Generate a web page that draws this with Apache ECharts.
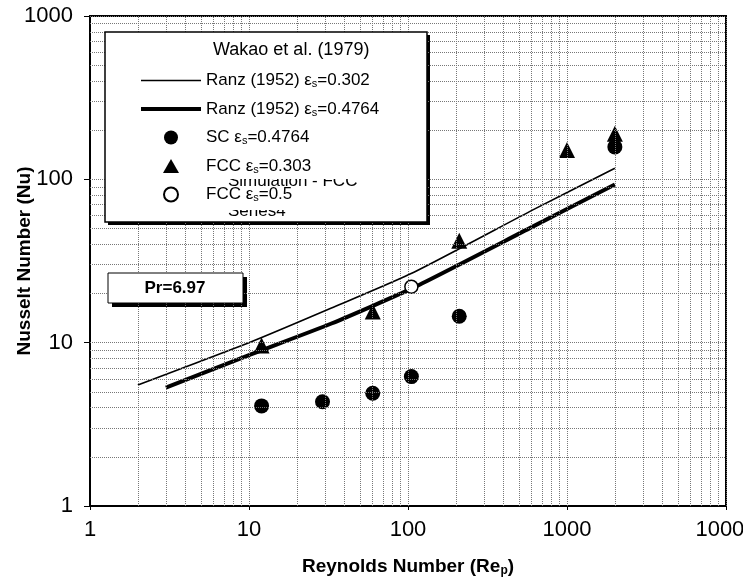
<!DOCTYPE html>
<html>
<head>
<meta charset="utf-8">
<script src="https://cdn.jsdelivr.net/npm/echarts@6/dist/echarts.min.js"></script>
<style>
html,body{margin:0;padding:0;background:#fff;}
#chart{width:743px;height:582px;}
</style>
</head>
<body>
<div id="chart"></div>
<script>
// ---- data ----
const xTickLabels = ['1', '10', '100', '1000', '10000'];
const yTickLabels = ['1', '10', '100', '1000'];

const ranz302Re = [2, 10, 33, 109, 610, 2000];
const ranz302Nu = [5.5, 10, 16.3, 27, 65, 117];

const ranz4764Re = [3, 10, 33, 109, 600, 2000];
const ranz4764Nu = [5.3, 8.4, 13.1, 21.8, 51, 93];

const scRe = [12, 29, 60, 105, 210, 2000];
const scNu = [4.1, 4.35, 4.9, 6.2, 14.5, 158];

const fcc303Re = [12, 60, 210, 1000, 2000];
const fcc303Nu = [9.6, 15.5, 42, 151, 190];

const fcc05Re = [105];
const fcc05Nu = [22];

const seriesNames = [
  'Ranz (1952) εs=0.302',
  'Ranz (1952) εs=0.4764',
  'SC εs=0.4764',
  'FCC εs=0.303',
  'FCC εs=0.5'
];

// grid line positions (decade multiples)
const xGrid = [];
[1, 10, 100, 1000].forEach(d => { for (let m = 2; m <= 10; m++) xGrid.push(d * m); });
const yGrid = [];
[1, 10, 100].forEach(d => { for (let m = 2; m <= 10; m++) yGrid.push(d * m); });

const pairs = (xs, ys) => xs.map((x, i) => [x, ys[i]]);

const chart = echarts.init(document.getElementById('chart'));
const FONT = 'Liberation Sans';

chart.setOption({
  animation: false,
  backgroundColor: '#fff',
  textStyle: { fontFamily: FONT },
  grid: { left: 90, right: 17, top: 16, bottom: 76, containLabel: false, outerBoundsMode: 'none',
    show: true, borderColor: '#000', borderWidth: 2, backgroundColor: 'transparent' },
  xAxis: {
    type: 'log', logBase: 10, min: 1, max: 10000,
    axisLine: { show: true, lineStyle: { color: '#000', width: 2 } },
    axisTick: { show: true, length: 4, lineStyle: { color: '#000', width: 1 } },
    splitLine: { show: false },
    axisLabel: { fontSize: 22, color: '#000', margin: 13, fontFamily: FONT, hideOverlap: false,
      formatter: v => xTickLabels[Math.round(Math.log10(v))] },
    name: 'Reynolds Number (Re{p|p})',
    nameLocation: 'middle', nameGap: 51, nameMoveOverlap: false,
    nameTextStyle: { fontSize: 19, fontWeight: 'bold', color: '#000', fontFamily: FONT,
      rich: { p: { fontSize: 12, fontWeight: 'bold', color: '#000', verticalAlign: 'bottom', padding: [8, 0, 0, 0] } } }
  },
  yAxis: {
    type: 'log', logBase: 10, min: 1, max: 1000,
    axisLine: { show: true, lineStyle: { color: '#000', width: 2 } },
    axisTick: { show: true, length: 6, lineStyle: { color: '#000', width: 1 } },
    splitLine: { show: false },
    axisLabel: { fontSize: 22, color: '#000', margin: 17, fontFamily: FONT, hideOverlap: false,
      formatter: v => yTickLabels[Math.round(Math.log10(v))] },
    name: 'Nusselt Number (Nu)',
    nameLocation: 'middle', nameGap: 56, nameRotate: 90, nameMoveOverlap: false,
    nameTextStyle: { fontSize: 19, fontWeight: 'bold', color: '#000', fontFamily: FONT }
  },
  legend: {
    orient: 'vertical', left: 134, top: 67, z: 20,
    itemWidth: 60, itemHeight: 14, itemGap: 11,
    symbolKeepAspect: true,
    data: [
      { name: seriesNames[0], itemStyle: { opacity: 0 }, lineStyle: { width: 1.6, color: '#000' } },
      { name: seriesNames[1], itemStyle: { opacity: 0 }, lineStyle: { width: 4, color: '#000' } },
      { name: seriesNames[2] },
      { name: seriesNames[3], icon: 'path://M8,0 L16,14 L0,14 Z' },
      { name: seriesNames[4] }
    ],
    formatter: n => n.replace('εs', 'ε{s|s}'),
    textStyle: { fontSize: 17, color: '#000', fontFamily: FONT,
      rich: { s: { fontSize: 11, color: '#000', verticalAlign: 'bottom', padding: [7, 0, 0, 0] } } }
  },
  graphic: [
    // legend frame with shadow
    { type: 'rect', z: 5, shape: { x: 108, y: 35, width: 322, height: 190 }, style: { fill: '#000' } },
    { type: 'rect', z: 6, shape: { x: 105, y: 32, width: 322, height: 190 }, style: { fill: '#fff', stroke: '#000', lineWidth: 1.5 } },
    { type: 'text', z: 7, left: 228, top: 173, style: { text: 'Simulation - FCC', font: '17px ' + FONT, fill: '#000' } },
    { type: 'text', z: 7, left: 228, top: 203, style: { text: 'Series4', font: '17px ' + FONT, fill: '#000' } },
    { type: 'rect', z: 8, shape: { x: 200, y: 166, width: 200, height: 13 }, style: { fill: '#fff' } },
    { type: 'rect', z: 8, shape: { x: 200, y: 196, width: 200, height: 14 }, style: { fill: '#fff' } },
    { type: 'text', z: 9, left: 213, top: 41, style: { text: 'Wakao et al. (1979)', font: '18px ' + FONT, fill: '#000' } },
    // Pr box
    { type: 'rect', z: 5, shape: { x: 112, y: 277, width: 135, height: 30 }, style: { fill: '#000' } },
    { type: 'rect', z: 6, shape: { x: 108, y: 273, width: 135, height: 30 }, style: { fill: '#fff', stroke: '#000', lineWidth: 1 } },
    { type: 'text', z: 7, x: 175, y: 288, style: { text: 'Pr=6.97', font: 'bold 17px ' + FONT, fill: '#000', textAlign: 'center', textVerticalAlign: 'middle' } }
  ],
  series: [
    {
      type: 'line', name: '_grid', data: [], z: 1, silent: true,
      markLine: {
        silent: true, symbol: 'none', animation: false,
        label: { show: false },
        lineStyle: { type: 'dotted', color: '#777', width: 1 },
        data: xGrid.map(v => ({ xAxis: v })).concat(yGrid.map(v => ({ yAxis: v })))
      }
    },
    {
      type: 'line', name: seriesNames[0], data: pairs(ranz302Re, ranz302Nu), z: 3,
      showSymbol: false, symbol: 'none', smooth: 0.2,
      lineStyle: { color: '#000', width: 1.6 }, itemStyle: { color: '#000' }
    },
    {
      type: 'line', name: seriesNames[1], data: pairs(ranz4764Re, ranz4764Nu), z: 3,
      showSymbol: false, symbol: 'none', smooth: 0.2,
      lineStyle: { color: '#000', width: 4 }, itemStyle: { color: '#000' }
    },
    {
      type: 'scatter', name: seriesNames[2], data: pairs(scRe, scNu), z: 4,
      symbol: 'circle', symbolSize: 15, itemStyle: { color: '#000', opacity: 1 }
    },
    {
      type: 'scatter', name: seriesNames[3], data: pairs(fcc303Re, fcc303Nu), z: 4,
      symbol: 'triangle', symbolSize: 16, itemStyle: { color: '#000', opacity: 1 }
    },
    {
      type: 'scatter', name: seriesNames[4], data: pairs(fcc05Re, fcc05Nu), z: 4,
      symbol: 'circle', symbolSize: 13, itemStyle: { color: '#fff', borderColor: '#000', borderWidth: 1.5, opacity: 1 }
    }
  ]
});
</script>
</body>
</html>
